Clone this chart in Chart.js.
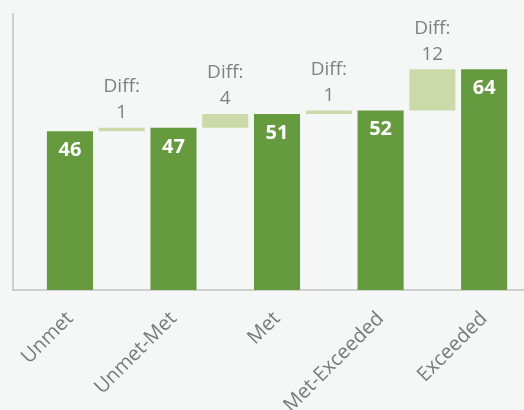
<!DOCTYPE html>
<html>
<head>
<meta charset="utf-8">
<script src="https://cdn.jsdelivr.net/npm/chart.js@4"></script>
<style>
  body { margin: 0; background: #f5f7f7; }
  #wrap { width: 524px; height: 410px; }
</style>
</head>
<body>
<div id="wrap"><canvas id="myChart"></canvas></div>
<script>
const categories = ['Unmet', 'Unmet-Met', 'Met', 'Met-Exceeded', 'Exceeded'];
const totals = [46, 47, 51, 52, 64];
const diffs = [1, 4, 1, 12];

const green = '#669a3e';
const lightGreen = '#cbdaa8';
const gray = '#808080';

// bars on even slots, floating "diff" steps on odd slots
const points = [];
const colors = [];
for (let i = 0; i < totals.length; i++) {
    points.push({ x: i * 2, y: [0, totals[i]] });
    colors.push(green);
    if (i < diffs.length) {
        points.push({ x: i * 2 + 1, y: [totals[i], totals[i] + diffs[i]] });
        colors.push(lightGreen);
    }
}

const barLabels = {
    id: 'barLabels',
    afterDatasetsDraw(chart) {
        const ctx = chart.ctx;
        const meta = chart.getDatasetMeta(0);
        ctx.save();
        ctx.textAlign = 'center';
        ctx.textBaseline = 'middle';
        meta.data.forEach((el, i) => {
            const p = el.getProps(['x', 'y', 'base'], true);
            const top = Math.min(p.y, p.base);
            if (i % 2 === 0) {
                ctx.fillStyle = '#ffffff';
                ctx.font = 'bold 20px "Open Sans"';
                ctx.fillText(totals[i / 2], p.x, top + 19);
            } else {
                ctx.fillStyle = gray;
                ctx.font = '19px "Open Sans"';
                ctx.fillText('Diff:', p.x, top - 41);
                ctx.fillText(diffs[(i - 1) / 2], p.x, top - 15);
            }
        });
        ctx.restore();
    }
};

new Chart(document.getElementById('myChart'), {
    type: 'bar',
    data: {
        datasets: [{
            data: points,
            backgroundColor: colors,
            borderWidth: 0,
            categoryPercentage: 1,
            barPercentage: 0.89
        }]
    },
    options: {
        responsive: true,
        maintainAspectRatio: false,
        animation: false,
        layout: { padding: { top: 14, left: 0, right: 0, bottom: 0 } },
        plugins: {
            legend: { display: false },
            tooltip: { enabled: false }
        },
        scales: {
            x: {
                type: 'linear',
                min: -1.1,
                max: 8.77,
                offset: false,
                grid: { display: false, drawTicks: false },
                border: { display: true, color: '#d0d0d0', width: 2 },
                afterBuildTicks: s => { s.ticks = categories.map((c, i) => ({ value: i * 2 })); },
                afterFit: s => { s.height = 120; },
                ticks: {
                    autoSkip: false,
                    minRotation: 45,
                    maxRotation: 45,
                    padding: 17,
                    color: '#7a7a7a',
                    font: { family: 'Open Sans', size: 20 },
                    callback: v => categories[v / 2]
                }
            },
            y: {
                min: 0,
                max: 80,
                grid: { display: false, drawTicks: false },
                border: { display: true, color: '#d0d0d0', width: 2 },
                ticks: { display: false },
                afterFit: s => { s.width = 13; }
            }
        }
    },
    plugins: [barLabels]
});
</script>
</body>
</html>
